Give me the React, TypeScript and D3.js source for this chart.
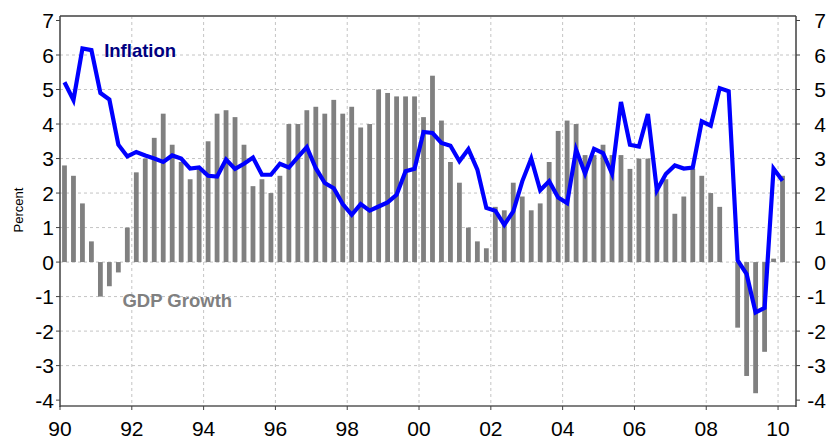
import { useEffect, useRef } from "react";
import * as d3 from "d3";

// quarterly data, 1990 Q1 .. 2010 Q1
const startYear = 1990;

const gdpGrowth = [
  2.8, 2.5, 1.7, 0.6,
  -1.0, -0.7, -0.3, 1.0,
  2.6, 3.0, 3.6, 4.3,
  3.4, 2.9, 2.4, 2.7,
  3.5, 4.3, 4.4, 4.2,
  3.4, 2.2, 2.4, 2.0,
  2.5, 4.0, 4.0, 4.4,
  4.5, 4.3, 4.7, 4.3,
  4.5, 3.9, 4.0, 5.0,
  4.9, 4.8, 4.8, 4.8,
  4.2, 5.4, 4.1, 2.9,
  2.3, 1.0, 0.6, 0.4,
  1.6, 1.5, 2.3, 1.9,
  1.5, 1.7, 2.9, 3.8,
  4.1, 4.0, 3.1, 3.1,
  3.4, 3.1, 3.1, 2.7,
  3.0, 3.0, 2.1, 2.4,
  1.4, 1.9, 2.7, 2.5,
  2.0, 1.6, 0.0, -1.9,
  -3.3, -3.8, -2.6, 0.1,
  2.5,
];

const inflation = [
  5.21, 4.69, 6.19, 6.14,
  4.9, 4.71, 3.4, 3.06,
  3.19, 3.09, 3.0, 2.9,
  3.09, 3.0, 2.71, 2.74,
  2.5, 2.48, 2.97, 2.7,
  2.85, 3.03, 2.53, 2.53,
  2.85, 2.74, 3.04, 3.33,
  2.72, 2.29, 2.14, 1.68,
  1.37, 1.68, 1.49, 1.61,
  1.73, 1.95, 2.63, 2.7,
  3.77, 3.74, 3.45, 3.37,
  2.92, 3.27, 2.68, 1.57,
  1.49, 1.08, 1.47, 2.34,
  3.0, 2.08, 2.34, 1.87,
  1.71, 3.26, 2.56, 3.28,
  3.16, 2.56, 4.64, 3.4,
  3.35, 4.29, 2.08, 2.55,
  2.8, 2.71, 2.74, 4.08,
  3.95, 5.04, 4.95, 0.05,
  -0.35, -1.46, -1.33, 2.71,
  2.36,
];

const yearTicks = [1990, 1992, 1994, 1996, 1998, 2000, 2002, 2004, 2006, 2008, 2010];
const yearLabels = ["90", "92", "94", "96", "98", "00", "02", "04", "06", "08", "10"];
const valueTicks = [-4, -3, -2, -1, 0, 1, 2, 3, 4, 5, 6, 7];

export default function App() {
  const ref = useRef<SVGSVGElement>(null);

  useEffect(() => {
    const left = 60;
    const right = 796;
    const top = 16;
    const bottom = 406;
    const font = "Arial, 'Liberation Sans', sans-serif";

    const svg = d3.select(ref.current);
    svg.selectAll("*").remove();

    const x = d3.scaleLinear().domain([1990, 2010.5]).range([left, right]);
    const y = d3.scaleLinear().domain([-4.17, 7.13]).range([bottom, top]);
    const qt = (i: number) => startYear + (i + 0.5) / 4;
    const barW = 4.8;

    // grid
    svg
      .append("g")
      .selectAll("line")
      .data(valueTicks.filter((v) => v > -4 && v < 7))
      .enter()
      .append("line")
      .attr("x1", left)
      .attr("x2", right)
      .attr("y1", (d) => y(d))
      .attr("y2", (d) => y(d))
      .attr("stroke", "#c4c4c4")
      .attr("stroke-dasharray", "3,3");

    svg
      .append("g")
      .selectAll("line")
      .data(yearTicks.slice(1))
      .enter()
      .append("line")
      .attr("x1", (d) => x(d))
      .attr("x2", (d) => x(d))
      .attr("y1", top)
      .attr("y2", bottom)
      .attr("stroke", "#c4c4c4")
      .attr("stroke-dasharray", "3,3");

    // GDP bars
    svg
      .append("g")
      .selectAll("rect")
      .data(gdpGrowth)
      .enter()
      .append("rect")
      .attr("x", (d, i) => x(qt(i)) - barW / 2)
      .attr("width", barW)
      .attr("y", (d) => y(Math.max(0, d)))
      .attr("height", (d) => Math.abs(y(d) - y(0)))
      .attr("fill", "#808080");

    // inflation line
    const line = d3
      .line<number>()
      .x((d, i) => x(qt(i)))
      .y((d) => y(d));

    svg
      .append("path")
      .datum(inflation)
      .attr("d", line)
      .attr("fill", "none")
      .attr("stroke", "#0000ff")
      .attr("stroke-width", 4.2)
      .attr("stroke-linejoin", "miter");

    // frame
    svg
      .append("line")
      .attr("x1", left).attr("x2", right)
      .attr("y1", top).attr("y2", top)
      .attr("stroke", "#707070").attr("stroke-width", 2);
    svg
      .append("line")
      .attr("x1", left).attr("x2", right)
      .attr("y1", bottom).attr("y2", bottom)
      .attr("stroke", "#808080").attr("stroke-width", 2);
    svg
      .append("line")
      .attr("x1", left).attr("x2", left)
      .attr("y1", top).attr("y2", bottom + 1)
      .attr("stroke", "#404040").attr("stroke-width", 1.5);
    svg
      .append("line")
      .attr("x1", right).attr("x2", right)
      .attr("y1", top).attr("y2", bottom + 1)
      .attr("stroke", "#404040").attr("stroke-width", 1.5);

    // ticks
    svg
      .append("g")
      .selectAll("line")
      .data(valueTicks)
      .enter()
      .append("line")
      .attr("x1", left - 4)
      .attr("x2", left)
      .attr("y1", (d) => y(d))
      .attr("y2", (d) => y(d))
      .attr("stroke", "#404040");
    svg
      .append("g")
      .selectAll("line")
      .data(valueTicks)
      .enter()
      .append("line")
      .attr("x1", right)
      .attr("x2", right + 4)
      .attr("y1", (d) => y(d))
      .attr("y2", (d) => y(d))
      .attr("stroke", "#404040");
    svg
      .append("g")
      .selectAll("line")
      .data(yearTicks)
      .enter()
      .append("line")
      .attr("x1", (d) => x(d))
      .attr("x2", (d) => x(d))
      .attr("y1", bottom)
      .attr("y2", bottom + 4)
      .attr("stroke", "#404040");

    // tick labels
    svg
      .append("g")
      .selectAll("text")
      .data(valueTicks)
      .enter()
      .append("text")
      .attr("x", 54)
      .attr("y", (d) => y(d))
      .attr("dy", "0.36em")
      .attr("text-anchor", "end")
      .attr("font-family", font)
      .attr("font-size", 21)
      .text((d) => d);
    svg
      .append("g")
      .selectAll("text")
      .data(valueTicks)
      .enter()
      .append("text")
      .attr("x", 826)
      .attr("y", (d) => y(d))
      .attr("dy", "0.36em")
      .attr("text-anchor", "end")
      .attr("font-family", font)
      .attr("font-size", 21)
      .text((d) => d);
    svg
      .append("g")
      .selectAll("text")
      .data(yearTicks)
      .enter()
      .append("text")
      .attr("x", (d) => x(d))
      .attr("y", 436)
      .attr("text-anchor", "middle")
      .attr("font-family", font)
      .attr("font-size", 21)
      .text((d, i) => yearLabels[i]);

    svg
      .append("text")
      .attr("transform", "translate(23,210) rotate(-90)")
      .attr("text-anchor", "middle")
      .attr("font-family", font)
      .attr("font-size", 13)
      .text("Percent");

    // series labels
    svg
      .append("text")
      .attr("x", x(1991.23))
      .attr("y", y(5.93))
      .attr("font-family", font)
      .attr("font-size", 18.5)
      .attr("font-weight", "bold")
      .attr("fill", "#000080")
      .text("Inflation");
    svg
      .append("text")
      .attr("x", x(1991.74))
      .attr("y", y(-1.31))
      .attr("font-family", font)
      .attr("font-size", 18.5)
      .attr("font-weight", "bold")
      .attr("fill", "#808080")
      .text("GDP Growth");
  }, []);

  return (
    <svg
      ref={ref}
      width={827}
      height={439}
      style={{ position: "absolute", left: 0, top: 0 }}
    />
  );
}
